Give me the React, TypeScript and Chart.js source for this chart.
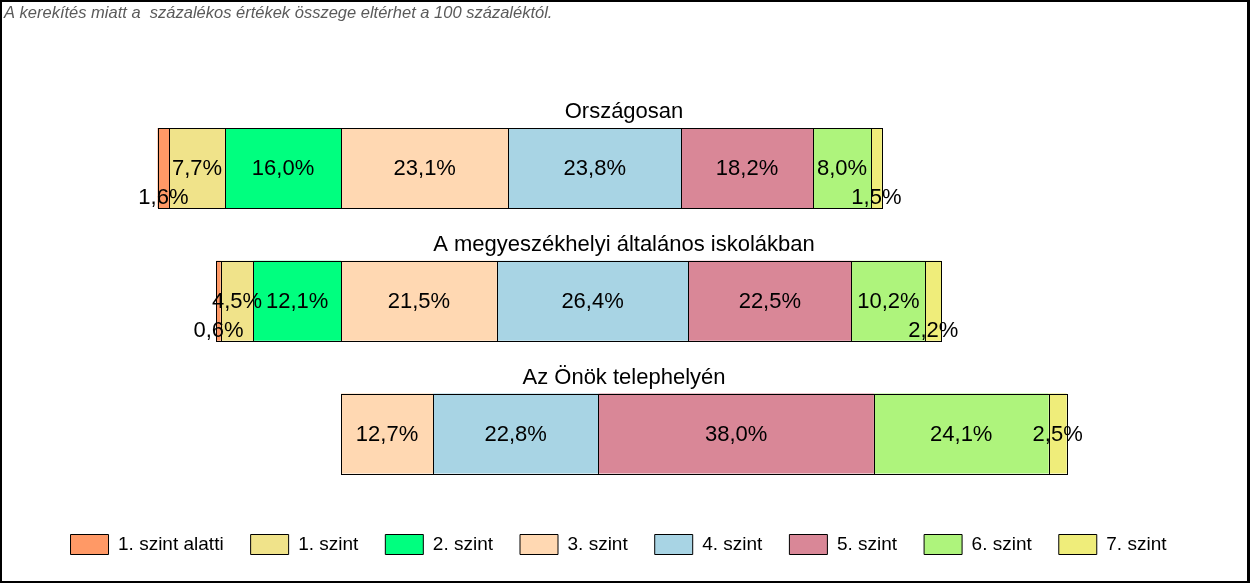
import React, { useEffect, useRef } from "react";
import { Chart, registerables } from "chart.js";

Chart.register(...registerables);

// ---- data ----
const levels = [
  "1. szint alatti",
  "1. szint",
  "2. szint",
  "3. szint",
  "4. szint",
  "5. szint",
  "6. szint",
  "7. szint",
];
const levelColors = [
  "#FF9966",
  "#F0E38A",
  "#00FF7F",
  "#FFD8B2",
  "#A8D4E4",
  "#D98797",
  "#AEF47C",
  "#EFED7A",
];
const groups = [
  "Országosan",
  "A megyeszékhelyi általános iskolákban",
  "Az Önök telephelyén",
];
const orszagosan = [1.6, 7.7, 16.0, 23.1, 23.8, 18.2, 8.0, 1.5];
const megyeszekhely = [0.6, 4.5, 12.1, 21.5, 26.4, 22.5, 10.2, 2.2];
const telephely = [0, 0, 0, 12.7, 22.8, 38.0, 24.1, 2.5];
const belowLevels = 3; // levels drawn left of the zero line
const note =
  "A kerekítés miatt a  százalékos értékek összege eltérhet a 100 százaléktól.";

const groupValues = [orszagosan, megyeszekhely, telephely];

const FONT = '"Liberation Sans", Arial, sans-serif';

function fmt(v: number) {
  return v.toFixed(1).replace(".", ",") + "%";
}

function buildDatasets() {
  const ranges = groupValues.map((vals) => {
    const below = vals.slice(0, belowLevels).reduce((a, b) => a + b, 0);
    let cur = -below;
    return vals.map((v) => {
      const s = cur;
      cur += v;
      return [s, cur];
    });
  });
  return levels.map((lvl, i) => ({
    label: lvl,
    backgroundColor: levelColors[i],
    borderColor: "#000000",
    data: groupValues
      .map((vals, r) =>
        vals[i] > 0 ? { x: ranges[r][i], y: r, value: vals[i] } : null
      )
      .filter((d) => d !== null),
  }));
}

const overlayPlugin = {
  id: "overlay",
  afterDatasetsDraw(chart: any) {
    const ctx = chart.ctx;
    ctx.save();
    // crisp segment outlines
    ctx.strokeStyle = "#000";
    ctx.lineWidth = 1;
    chart.data.datasets.forEach((ds: any, di: number) => {
      const meta = chart.getDatasetMeta(di);
      meta.data.forEach((el: any) => {
        const p = el.getProps(["x", "y", "base", "height"], true);
        const l = Math.round(Math.min(p.x, p.base));
        const r = Math.round(Math.max(p.x, p.base));
        const t = Math.round(p.y - p.height / 2);
        const b = Math.round(p.y + p.height / 2);
        ctx.strokeRect(l + 0.5, t + 0.5, r - l, b - t);
      });
    });
    // value labels
    ctx.fillStyle = "#000";
    ctx.font = "22px " + FONT;
    ctx.textAlign = "center";
    ctx.textBaseline = "middle";
    chart.data.datasets.forEach((ds: any, di: number) => {
      const meta = chart.getDatasetMeta(di);
      meta.data.forEach((el: any, j: number) => {
        const raw = ds.data[j];
        const p = el.getProps(["x", "y", "base", "height"], true);
        const cx = (p.x + p.base) / 2;
        const cy = raw.value < 2.5 ? p.y + p.height / 2 - 11 : p.y;
        ctx.fillText(fmt(raw.value), cx, cy + 1);
      });
    });
    // group titles
    const yScale = chart.scales.y;
    ctx.textBaseline = "alphabetic";
    groups.forEach((g, r) => {
      const top = yScale.getPixelForValue(r) - 40;
      ctx.fillText(g, chart.width / 2 - 1, top - 10);
    });
    ctx.restore();
  },
  afterDraw(chart: any) {
    const ctx = chart.ctx;
    ctx.save();
    ctx.fillStyle = "#5a5a5a";
    ctx.font = "italic 16.5px " + FONT;
    ctx.textAlign = "left";
    ctx.textBaseline = "alphabetic";
    ctx.fillText(note, 4, 18);
    ctx.fillStyle = "#000";
    const w = chart.width;
    const h = chart.height;
    ctx.fillRect(0, 0, w, 2);
    ctx.fillRect(0, 0, 2, h);
    ctx.fillRect(w - 3, 0, 3, h);
    ctx.fillRect(0, h - 2, w, 2);
    ctx.restore();
  },
};

export default function App() {
  const canvasRef = useRef<HTMLCanvasElement | null>(null);

  useEffect(() => {
    if (!canvasRef.current) return;
    const chart = new Chart(canvasRef.current, {
      type: "bar",
      data: { datasets: buildDatasets() as any },
      options: {
        indexAxis: "y",
        animation: false,
        responsive: false,
        devicePixelRatio: 1,
        layout: { padding: { left: 10, right: 23, top: 30, bottom: 18.5 } },
        datasets: {
          bar: {
            grouped: false,
            barThickness: 80,
            borderSkipped: false,
            inflateAmount: 0,
            borderWidth: 0,
          } as any,
        },
        scales: {
          x: {
            type: "linear",
            display: false,
            offset: false,
            min: -(341 - 10) / 7.25,
            max: -(341 - 10) / 7.25 + 1217 / 7.25,
          },
          y: {
            type: "linear",
            display: false,
            offset: false,
            grid: { offset: false },
            reverse: true,
            min: -(168 - 30) / 132.75,
            max: -(168 - 30) / 132.75 + 477.5 / 132.75,
          },
        },
        plugins: {
          tooltip: { enabled: false },
          title: { display: false },
          legend: {
            display: true,
            position: "bottom",
            labels: {
              boxWidth: 38,
              boxHeight: 20,
              padding: 27,
              color: "#000",
              font: { size: 19, family: FONT },
              generateLabels: () =>
                levels.map((l, i) => ({
                  text: l,
                  fillStyle: levelColors[i],
                  strokeStyle: "#000",
                  lineWidth: 1,
                  hidden: false,
                  datasetIndex: i,
                  fontColor: "#000",
                })),
            },
          },
        },
      },
      plugins: [overlayPlugin],
    });
    return () => chart.destroy();
  }, []);

  return (
    <div
      style={{
        position: "absolute",
        left: 0,
        top: 0,
        width: 1250,
        height: 583,
        background: "#fff",
      }}
    >
      <canvas
        ref={canvasRef}
        width={1250}
        height={583}
        style={{ display: "block", width: 1250, height: 583 }}
      />
    </div>
  );
}
